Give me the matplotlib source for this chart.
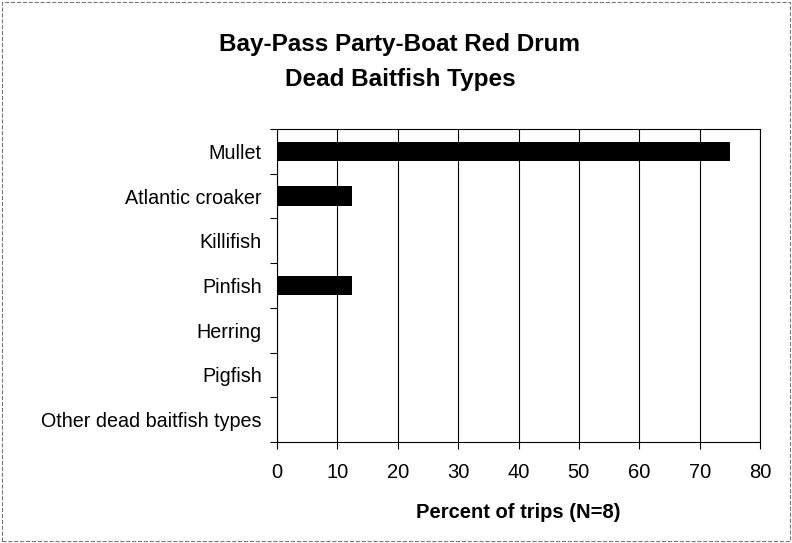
import numpy as np
import matplotlib.pyplot as plt
from matplotlib.patches import Rectangle

# baitfish categories, top to bottom
categories = ["Mullet", "Atlantic croaker", "Killifish", "Pinfish",
              "Herring", "Pigfish", "Other dead baitfish types"]
percent = [75, 12.5, 0, 12.5, 0, 0, 0]
xticks = [0, 10, 20, 30, 40, 50, 60, 70, 80]

plt.rcParams['font.family'] = ['Liberation Sans', 'DejaVu Sans']

fig = plt.figure(figsize=(7.92, 5.43), dpi=100)
ax = fig.add_axes([277/792, 1 - 442/543, 483/792, 313/543])

y = np.arange(len(categories))
ax.barh(y, percent, height=0.43, color='black', zorder=3)
ax.set_ylim(len(categories) - 0.5, -0.5)
ax.set_xlim(0, 80)
ax.set_xticks(xticks)
ax.set_xticklabels([str(t) for t in xticks], fontsize=14.5)
ax.set_yticks(y)
ax.set_yticklabels(categories, fontsize=14.2)
ax.tick_params(axis='y', length=0, pad=11)
ax.set_yticks(np.arange(len(categories) + 1) - 0.5, minor=True)
ax.tick_params(axis='y', which='minor', length=5, direction='out', width=0.8)
ax.tick_params(axis='x', length=5, direction='out', width=0.8, pad=10)
ax.grid(axis='x', color='black', linewidth=0.8, zorder=1)
for s in ax.spines.values():
    s.set_linewidth(0.8)

ax.set_xlabel("Percent of trips (N=8)", fontsize=14.5, fontweight='bold', labelpad=15)
fig.text(0.505, 1 - 62/543, "Bay-Pass Party-Boat Red Drum\nDead Baitfish Types",
         ha='center', va='center', fontsize=17.5, fontweight='bold', linespacing=1.65)

fig.patches.append(Rectangle((0.003, 0.003), 0.994, 0.994, transform=fig.transFigure,
                             fill=False, edgecolor='#777777', linewidth=0.8, linestyle='--'))

fig.savefig("out.png", dpi=100)
